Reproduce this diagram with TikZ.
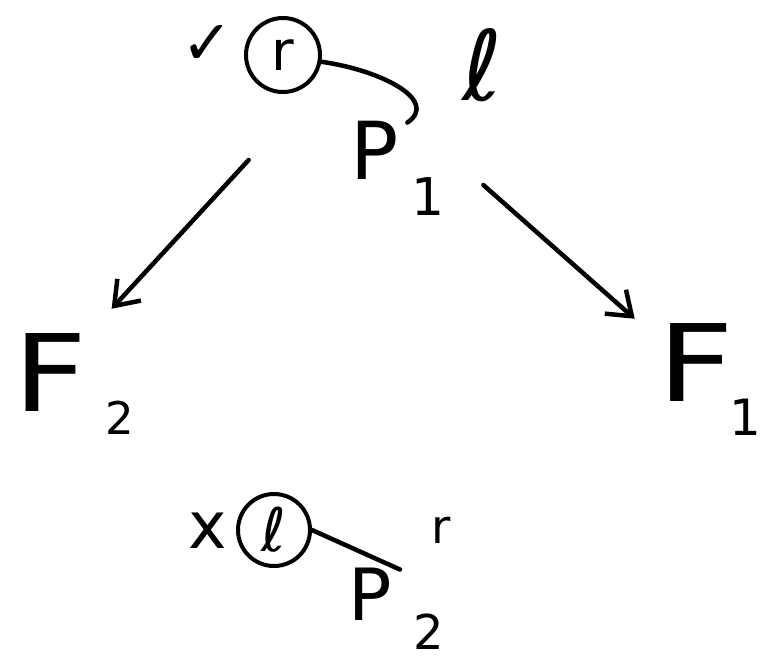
\documentclass[tikz,border=0pt]{standalone}
\usepackage{fontspec}
\setmainfont{DejaVu Sans}
\usetikzlibrary{arrows.meta}
\begin{document}
\begin{tikzpicture}[x=1pt,y=-1pt, line width=4.5pt, line cap=round, line join=round,
  lbl/.style={inner sep=0pt, font=\fontsize{#1}{#1}\selectfont},
  circ/.style={circle, draw, line width=4pt, minimum size=#1, inner sep=0pt},
  arr/.style={-{Straight Barb[length=22pt,width=32pt,line width=4.5pt]}, line width=4.5pt},
  link/.style={line width=4.5pt}]
\useasboundingbox (0,0) rectangle (768,665);
% top group
\node[lbl=62] (chk) at (207,45) {✓};
\node[circ=74pt, lbl=55] (cr) at (283,55) {r};
\node[lbl=97] (ell) at (483,65) {ℓ};
\node[lbl=80] (P1) at (375,150) {P};
\node[lbl=52] (s1) at (428,197) {1};
\draw[link] (cr.-10) .. controls (380,70) and (440,100) .. ([shift={(6,4)}]P1.north east);
% F nodes
\node[lbl=107, xscale=1.2] (F2) at (50,372) {F};
\node[lbl=45] (t2) at (120,418) {2};
\node[lbl=107, xscale=1.25] (F1) at (696,362) {F};
\node[lbl=50] (t1) at (745,417) {1};
% arrows
\draw[arr] ([shift={(-100,10)}]P1.west) -- ([shift={(22,-22)}]F2.north east);
\draw[arr] ([shift={(82,35)}]P1.east) -- ([shift={(-20,-2)}]F1.north west);
% bottom group
\node[lbl=65] (x) at (208,531) {x};
\node[circ=72pt, lbl=60] (cl) at (274,530) {ℓ};
\node[lbl=47] (rr) at (441,530) {r};
\node[lbl=72] (P2) at (370,594) {P};
\node[lbl=48] (s2) at (429,632) {2};
\draw[link] (cl.east) -- ([shift={(6,4)}]P2.north east);
\end{tikzpicture}
\end{document}
